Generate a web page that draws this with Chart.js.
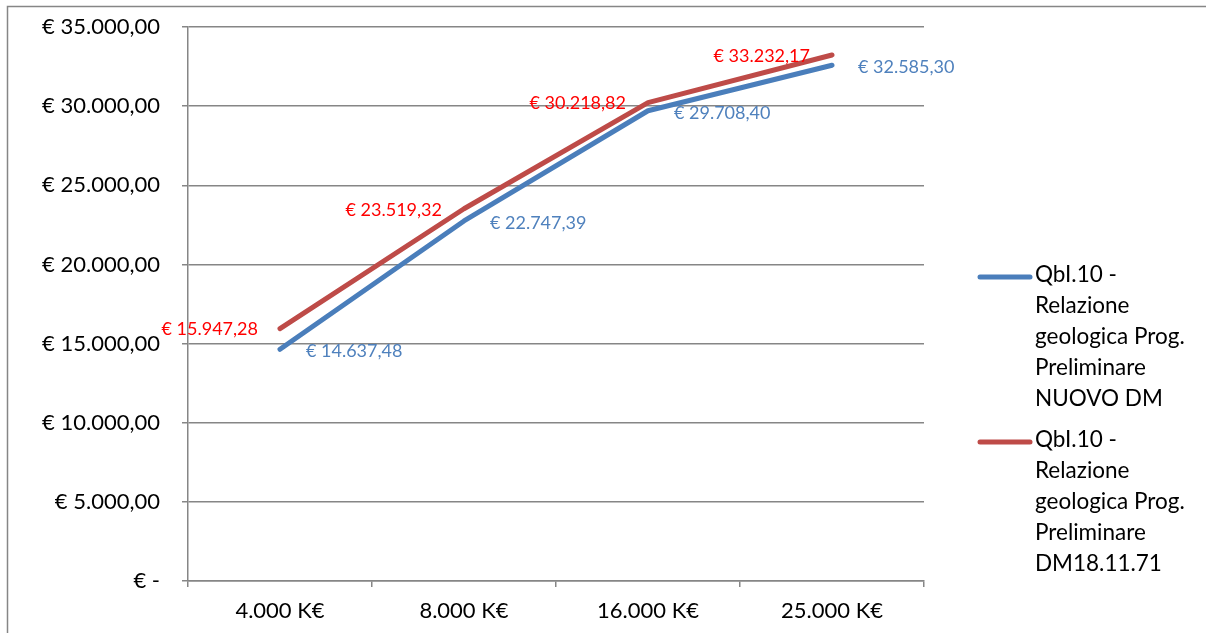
<!DOCTYPE html>
<html>
<head>
<meta charset="utf-8">
<script src="https://cdn.jsdelivr.net/npm/chart.js@4/dist/chart.umd.min.js"></script>
<style>
  html, body { margin: 0; padding: 0; background: #fff; }
  canvas { display: block; }
</style>
</head>
<body>
<canvas id="chart" width="1206" height="633"></canvas>
<script>
// importi per classe di lavori
const categories = ['4.000 K€', '8.000 K€', '16.000 K€', '25.000 K€'];
const nuovoDM = [14637.48, 22747.39, 29708.40, 32585.30];
const dm1971 = [15947.28, 23519.32, 30218.82, 33232.17];
const nuovoDMName = ['QbI.10 -', 'Relazione', 'geologica Prog.', 'Preliminare', 'NUOVO DM'];
const dm1971Name = ['QbI.10 -', 'Relazione', 'geologica Prog.', 'Preliminare', 'DM18.11.71'];
const yMax = 35000;
const yStep = 5000;

const FONT = 'Lato, "Open Sans", sans-serif';
const GRID = '#868686';
const BLUE = '#4A7EBB';
const RED = '#BE4B48';

// formato € 12.345,67 (zero come "€ -")
function euro(v) {
    if (v === 0) return '€ -';
    const parts = Number(v).toFixed(2).split('.');
    return '€ ' + parts[0].replace(/\B(?=(\d{3})+(?!\d))/g, '.') + ',' + parts[1];
}

// cornice esterna
const framePlugin = {
    id: 'frame',
    beforeDraw(chart) {
        const ctx = chart.ctx;
        ctx.save();
        ctx.strokeStyle = GRID;
        ctx.lineWidth = 1.5;
        ctx.strokeRect(7.5, 6.5, chart.width + 20, chart.height + 20);
        ctx.restore();
    }
};

// etichette dei valori accanto ai punti
const valueLabels = {
    id: 'valueLabels',
    afterDatasetsDraw(chart) {
        const ctx = chart.ctx;
        ctx.save();
        ctx.font = '18px ' + FONT;
        ctx.textBaseline = 'middle';
        chart.data.datasets.forEach((ds, i) => {
            const meta = chart.getDatasetMeta(i);
            meta.data.forEach((pt, j) => {
                ctx.fillStyle = ds.labelColor;
                if (ds.labelSide === 'left') {
                    ctx.textAlign = 'right';
                    ctx.fillText(euro(ds.data[j]), pt.x - 22, pt.y + 1);
                } else {
                    ctx.textAlign = 'left';
                    ctx.fillText(euro(ds.data[j]), pt.x + 26, pt.y + 2);
                }
            });
        });
        ctx.restore();
    }
};

// legenda a destra, testo su più righe
const sideLegend = {
    id: 'sideLegend',
    afterDraw(chart) {
        const ctx = chart.ctx;
        const area = chart.chartArea;
        const x0 = area.right + 56;
        const lineH = 31;
        let y = 275;
        ctx.save();
        ctx.font = '22.5px ' + FONT;
        ctx.textBaseline = 'middle';
        ctx.textAlign = 'left';
        chart.data.datasets.forEach(ds => {
            ctx.strokeStyle = ds.borderColor;
            ctx.lineWidth = 5;
            ctx.lineCap = 'round';
            ctx.beginPath();
            ctx.moveTo(x0, y + 2);
            ctx.lineTo(x0 + 50, y + 2);
            ctx.stroke();
            ctx.fillStyle = '#000';
            ds.nameLines.forEach((t, k) => ctx.fillText(t, x0 + 55, y + k * lineH));
            y += ds.nameLines.length * lineH + 10;
        });
        ctx.restore();
    }
};

new Chart(document.getElementById('chart'), {
    type: 'line',
    data: {
        labels: categories,
        datasets: [
            {
                label: nuovoDMName.join(' '),
                nameLines: nuovoDMName,
                data: nuovoDM,
                borderColor: BLUE,
                labelColor: '#4F81BD',
                labelSide: 'right',
                borderWidth: 5,
                borderCapStyle: 'round',
                borderJoinStyle: 'round',
                pointRadius: 0,
                tension: 0
            },
            {
                label: dm1971Name.join(' '),
                nameLines: dm1971Name,
                data: dm1971,
                borderColor: RED,
                labelColor: '#FF0000',
                labelSide: 'left',
                borderWidth: 5,
                borderCapStyle: 'round',
                borderJoinStyle: 'round',
                pointRadius: 0,
                tension: 0
            }
        ]
    },
    options: {
        responsive: false,
        animation: false,
        layout: { padding: { top: 27, right: 282, left: 0, bottom: 0 } },
        plugins: {
            legend: { display: false },
            tooltip: { enabled: false }
        },
        scales: {
            x: {
                offset: true,
                grid: { offset: true, drawOnChartArea: false, drawTicks: true, tickLength: 6, color: GRID, lineWidth: 1.5 },
                border: { color: GRID, width: 1.5 },
                ticks: { color: '#000', font: { family: FONT, size: 22 }, padding: 11 },
                afterFit(s) { s.height = 52; s.paddingLeft = 0; s.paddingRight = 0; }
            },
            y: {
                min: 0,
                max: yMax,
                grid: { color: GRID, tickLength: 6, lineWidth: 1.5 },
                border: { color: GRID, width: 1.5 },
                ticks: {
                    stepSize: yStep,
                    color: '#000',
                    font: { family: FONT, size: 22 },
                    padding: 22,
                    callback: v => euro(v)
                },
                afterFit(s) { s.width = 188; s.paddingTop = 0; s.paddingBottom = 0; }
            }
        }
    },
    plugins: [framePlugin, valueLabels, sideLegend]
});
</script>
</body>
</html>
